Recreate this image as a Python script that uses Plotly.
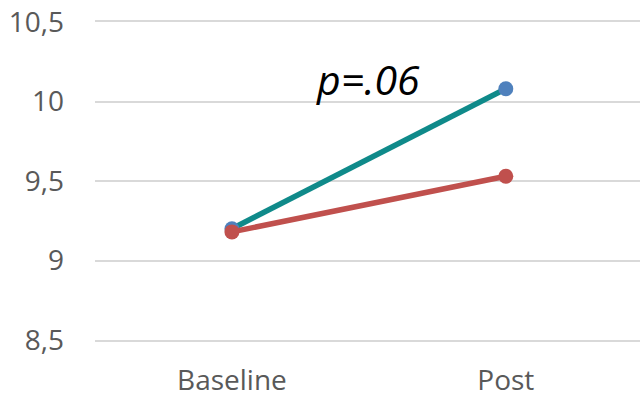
import plotly.graph_objects as go

categories = ["Baseline", "Post"]
series_a = [9.20, 10.08]
series_b = [9.18, 9.53]
y_ticks = [8.5, 9.0, 9.5, 10.0, 10.5]
y_tick_labels = ["8,5", "9", "9,5", "10", "10,5"]
annotation_text = "p=.06"

fig = go.Figure()
fig.add_trace(go.Scatter(
    x=categories, y=series_a, mode="lines+markers",
    line=dict(color="#0F8A8A", width=5.5),
    marker=dict(color="#4F81BD", size=15),
    showlegend=False,
))
fig.add_trace(go.Scatter(
    x=categories, y=series_b, mode="lines+markers",
    line=dict(color="#C0504D", width=5.5),
    marker=dict(color="#C0504D", size=15),
    showlegend=False,
))

fig.add_annotation(
    x=0.496, y=10.14, xref="x", yref="y",
    text="<i>" + annotation_text + "</i>", showarrow=False,
    font=dict(family="Open Sans", size=41, color="#000000"),
)

fig.update_layout(
    width=640, height=397,
    margin=dict(l=95, r=0, t=22, b=57),
    paper_bgcolor="white", plot_bgcolor="white",
    font=dict(family="Open Sans", color="#595959"),
)
fig.update_xaxes(
    type="category", range=[-0.5, 1.49],
    showgrid=False, zeroline=False,
    showline=True, mirror=True, linecolor="#D9D9D9", linewidth=1.5,
    tickfont=dict(size=28, color="#595959"),
    ticks="", ticklabelstandoff=15, automargin=False,
)
fig.update_yaxes(
    range=[8.5, 10.5], tickvals=y_ticks, ticktext=y_tick_labels,
    showgrid=True, gridcolor="#D9D9D9", gridwidth=1.5,
    zeroline=False, showline=False,
    tickfont=dict(size=28, color="#595959"),
    ticks="", ticklabelstandoff=30, automargin=False,
)

fig.write_html(
    "out.html",
    config={"responsive": False, "displayModeBar": False},
    post_script="document.body.style.margin='0';document.body.style.overflow='hidden';",
)
